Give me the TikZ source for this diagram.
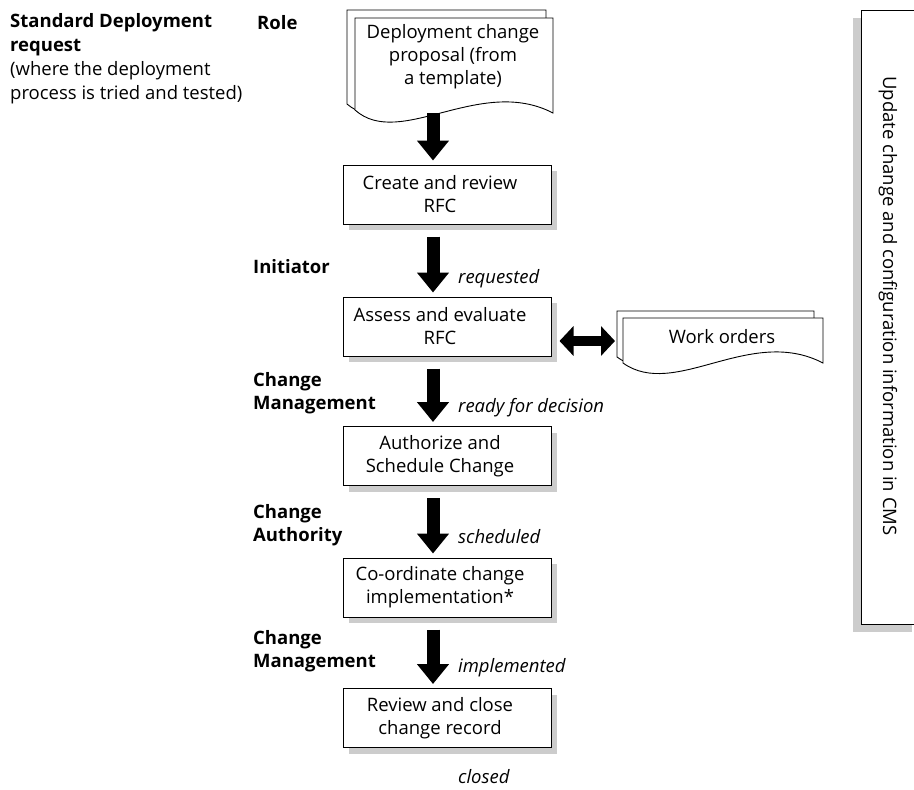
\documentclass[tikz,border=0pt]{standalone}
\usepackage{fontspec}
\setmainfont{Open Sans}
\usetikzlibrary{arrows.meta,shadows}

\newcommand{\basefont}{\fontsize{18.5pt}{23pt}\selectfont}
% box text sits slightly left of the box centre
\newcommand{\boxlines}[1]{\parbox{194pt}{\centering #1}\hspace*{14pt}}

\tikzset{
  stepbox/.style={draw=black, line width=1pt, fill=white,
    minimum width=208pt, minimum height=59pt, inner sep=0pt, font=\basefont,
    drop shadow={shadow xshift=6pt, shadow yshift=-6pt, fill=black!20, opacity=1}},
  cmsbox/.style={draw=black, line width=1pt, fill=white,
    minimum width=59pt, minimum height=614pt, inner sep=0pt,
    drop shadow={shadow xshift=-8pt, shadow yshift=-8pt, fill=black!20, opacity=1}},
  page/.style={draw=black, line width=0.9pt, fill=white},
  flow/.style={line width=13pt, -{Triangle[width=31pt,length=20pt]}},
  swap/.style={line width=10pt,
    {Triangle[width=29pt,length=14pt]}-{Triangle[width=29pt,length=14pt]}},
  role/.style={font=\basefont\bfseries, anchor=west, align=left, inner sep=0pt},
  status/.style={font=\basefont\itshape, anchor=west, inner sep=0pt},
  plain/.style={font=\basefont, inner sep=0pt},
}

\begin{document}
\begin{tikzpicture}[x=1pt, y=-1pt]
\useasboundingbox (0,0) rectangle (914,790);
\clip (0,0) rectangle (914,790);

% heading and column title
\node[font=\fontsize{18.5pt}{24pt}\selectfont, anchor=west, align=left, inner sep=0pt]
  (title) at (10,59)
  {\textbf{Standard Deployment}\\\textbf{request}\\(where the deployment\\process is tried and tested)};
\node[role] (role) at (257,23) {Role};

% proposal document (two sheets)
\draw[page] (347,10) -- (546,10) -- (546,106)
  .. controls (473,68) and (393,143) .. (347,104) -- cycle;
\draw[page] (355,18) -- (553,18) -- (553,113)
  .. controls (480,75) and (400,150) .. (355,110) -- cycle;
\node[plain, align=center] (proposal) at (453,57)
  {Deployment change\\proposal (from\\a template)};
\coordinate (docfoot) at (433,113);

% process steps
\node[stepbox] (b1) at (447,194.5) {\boxlines{Create and review\\RFC}};
\node[stepbox] (b2) at (447,326.5) {\boxlines{Assess and evaluate\\RFC}};
\node[stepbox] (b3) at (447,456)   {\boxlines{Authorize and\\Schedule Change}};
\node[stepbox] (b4) at (447,587.5) {\boxlines{Co-ordinate change\\implementation*}};
\node[stepbox] (b5) at (447,718)   {\boxlines{Review and close\\change record}};

% work orders document (two sheets)
\draw[page] (617,311) -- (814,311) -- (814,357)
  .. controls (743,319) and (668,394) .. (617,357) -- cycle;
\draw[page] (623,318) -- (823,318) -- (823,363)
  .. controls (750,325) and (675,400) .. (623,363) -- cycle;
\node[plain] (wo) at (722,337) {Work orders};
\coordinate (woedge) at (615,341);

% CMS update bar
\node[cmsbox] (cms) at (890.5,317) {};
\node[plain, rotate=-90] (cmstext) at (888,306)
  {Update change and configuration information in CMS};

% flow arrows
\draw[flow] (docfoot) -- ([xshift=-14pt,yshift=4pt]b1.north);
\draw[flow] ([xshift=-14pt,yshift=-12pt]b1.south) -- ([xshift=-14pt,yshift=4pt]b2.north);
\draw[flow] ([xshift=-14pt,yshift=-12pt]b2.south) -- ([xshift=-14pt,yshift=4pt]b3.north);
\draw[flow] ([xshift=-14pt,yshift=-12pt]b3.south) -- ([xshift=-14pt,yshift=4pt]b4.north);
\draw[flow] ([xshift=-14pt,yshift=-12pt]b4.south) -- ([xshift=-14pt,yshift=4pt]b5.north);
\draw[swap] ([xshift=8pt,yshift=-14.5pt]b2.east) -- (woedge);

% roles
\node[role] (r1) at (253,267) {Initiator};
\node[role] (r2) at (253,393) {Change\\Management};
\node[role] (r3) at (253,525) {Change\\Authority};
\node[role] (r4) at (253,651) {Change\\Management};

% states
\node[status] (s1) at (458,279) {requested};
\node[status] (s2) at (458,408) {ready for decision};
\node[status] (s3) at (458,537) {scheduled};
\node[status] (s4) at (458,668) {implemented};
\node[status] (s5) at (458,777) {closed};
\end{tikzpicture}
\end{document}
